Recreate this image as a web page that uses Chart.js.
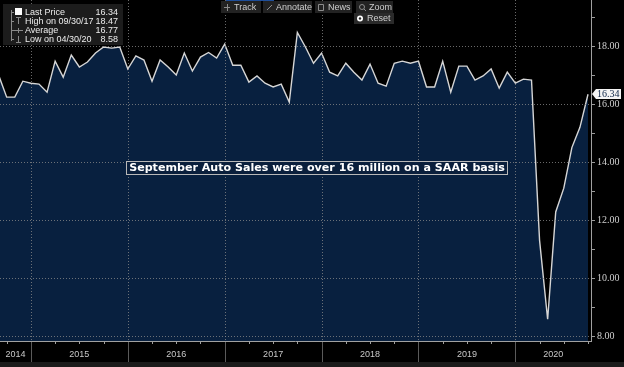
<!DOCTYPE html>
<html>
<head>
<meta charset="utf-8">
<script src="https://cdn.jsdelivr.net/npm/chart.js@4/dist/chart.umd.min.js"></script>
<style>
  html, body { margin: 0; padding: 0; background: #000; }
  #wrap { width: 624px; height: 367px; position: relative; }
</style>
</head>
<body>
<div id="wrap"><canvas id="salesChart" width="624" height="367"></canvas></div>
<script>
// monthly US auto sales, SAAR (millions), Aug 2014 .. Sep 2020 (month-end points)
const salesSaar = [
  17.00, 16.24, 16.24, 16.79, 16.72, 16.69, 16.41, 17.48, 16.93, 17.69, 17.28, 17.45,
  17.76, 17.97, 17.93, 17.97, 17.21, 17.66, 17.52, 16.79, 17.52, 17.28, 17.00, 17.76,
  17.14, 17.62, 17.78, 17.59, 18.07, 17.34, 17.34, 16.76, 16.97, 16.72, 16.59, 16.69,
  16.07, 18.47, 17.97, 17.41, 17.76, 17.10, 16.97, 17.41, 17.10, 16.83, 17.38, 16.72,
  16.62, 17.41, 17.48, 17.41, 17.48, 16.59, 16.59, 17.48, 16.41, 17.31, 17.31, 16.83,
  16.97, 17.21, 16.55, 17.10, 16.72, 16.86, 16.83, 11.30, 8.58, 12.28, 13.10, 14.50,
  15.20, 16.34
];
const years = ['2014', '2015', '2016', '2017', '2018', '2019', '2020'];
const yTickValues = [8, 10, 12, 14, 16, 18];
const legendLabels = ['Last Price', 'High on 09/30/17', 'Average', 'Low on 04/30/20'];
const legendValues = ['16.34', '18.47', '16.77', '8.58'];
const toolbarButtons = ['Track', 'Annotate', 'News', 'Zoom'];
const noteText = 'September Auto Sales were over 16 million on a SAAR basis';

// index 0 = Aug 2014, so Dec 2014 (year end) is index 4
const firstYearEnd = 4;

const points = salesSaar.map((v, i) => ({ x: i, y: v }));

const bloombergDecor = {
  id: 'bloombergDecor',
  afterDatasetsDraw(chart) {
    const { ctx, chartArea, scales } = chart;
    const x = scales.x;
    ctx.save();
    // year grid lines (dotted)
    ctx.strokeStyle = 'rgba(140,140,140,0.75)';
    ctx.lineWidth = 1;
    ctx.setLineDash([1, 2]);
    for (let k = 0; k < years.length - 1; k++) {
      const px = Math.round(x.getPixelForValue(firstYearEnd + 12 * k)) + 0.5;
      ctx.beginPath();
      ctx.moveTo(px, chartArea.top);
      ctx.lineTo(px, chartArea.bottom);
      ctx.stroke();
    }
    ctx.restore();
  },
  afterDraw(chart) {
    const { ctx, chartArea, scales } = chart;
    const x = scales.x, y = scales.y;
    const bottom = chartArea.bottom;
    ctx.save();

    // bottom axis line + quarterly ticks
    ctx.strokeStyle = '#a0a0a0';
    ctx.lineWidth = 1;
    ctx.beginPath();
    ctx.moveTo(chartArea.left, bottom + 0.5);
    ctx.lineTo(chartArea.right, bottom + 0.5);
    ctx.stroke();
    for (let i = 1; i < salesSaar.length; i += 3) {
      const px = Math.round(x.getPixelForValue(i)) + 0.5;
      ctx.beginPath();
      ctx.moveTo(px, bottom);
      ctx.lineTo(px, bottom + 3);
      ctx.stroke();
    }

    // year band
    ctx.fillStyle = '#1b1b1b';
    ctx.fillRect(0, 362, chart.width, chart.height - 362);
    ctx.strokeStyle = '#5a5a5a';
    ctx.font = '9px "Liberation Sans", Arial, sans-serif';
    ctx.fillStyle = '#c8c8c8';
    ctx.textAlign = 'center';
    ctx.textBaseline = 'middle';
    years.forEach((yr, k) => {
      const startIdx = firstYearEnd + 12 * (k - 1);
      const endIdx = startIdx + 12;
      let x0 = Math.max(chartArea.left, x.getPixelForValue(startIdx));
      let x1 = Math.min(chartArea.right, x.getPixelForValue(endIdx));
      if (k < years.length - 1) {
        const px = Math.round(x1) + 0.5;
        ctx.beginPath();
        ctx.moveTo(px, bottom + 1);
        ctx.lineTo(px, 362);
        ctx.stroke();
      }
      ctx.fillText(yr, (x0 + x1) / 2, 355);
    });

    // right axis labels
    ctx.font = '10px "Liberation Serif", "Times New Roman", serif';
    ctx.fillStyle = '#d0d0d0';
    ctx.textAlign = 'left';
    yTickValues.forEach(v => {
      ctx.fillText(v.toFixed(2), chartArea.right + 6, y.getPixelForValue(v) + 0.5);
    });

    // last price tag
    const last = salesSaar[salesSaar.length - 1];
    const ty = Math.round(y.getPixelForValue(last));
    ctx.fillStyle = '#f4f4f4';
    ctx.beginPath();
    ctx.moveTo(chartArea.right + 1, ty);
    ctx.lineTo(chartArea.right + 5, ty - 5);
    ctx.lineTo(chartArea.right + 30, ty - 5);
    ctx.lineTo(chartArea.right + 30, ty + 5);
    ctx.lineTo(chartArea.right + 5, ty + 5);
    ctx.closePath();
    ctx.fill();
    ctx.fillStyle = '#0b2345';
    ctx.fillText(last.toFixed(2), chartArea.right + 6, ty + 0.5);

    // legend box
    ctx.fillStyle = 'rgba(30,30,30,0.92)';
    ctx.fillRect(3, 4, 120, 41);
    ctx.strokeStyle = '#8a8a8a';
    ctx.beginPath();
    ctx.moveTo(11.5, 10); ctx.lineTo(11.5, 41); ctx.stroke();
    ctx.font = '9px "Liberation Sans", Arial, sans-serif';
    legendLabels.forEach((lab, i) => {
      const ly = 12 + i * 9;
      ctx.strokeStyle = '#8a8a8a';
      if (i === 0) {
        ctx.fillStyle = '#ffffff';
        ctx.fillRect(15, ly - 4, 7, 7);
      } else if (i === 1) {
        ctx.beginPath();
        ctx.moveTo(16, ly - 3.5); ctx.lineTo(21, ly - 3.5);
        ctx.moveTo(18.5, ly - 3.5); ctx.lineTo(18.5, ly + 3);
        ctx.stroke();
      } else if (i === 2) {
        ctx.beginPath();
        ctx.moveTo(14, ly + 0.5); ctx.lineTo(23, ly + 0.5);
        ctx.moveTo(18.5, ly - 2); ctx.lineTo(18.5, ly + 3);
        ctx.stroke();
      } else {
        ctx.beginPath();
        ctx.moveTo(16, ly + 3.5); ctx.lineTo(21, ly + 3.5);
        ctx.moveTo(18.5, ly - 3); ctx.lineTo(18.5, ly + 3.5);
        ctx.stroke();
      }
      ctx.beginPath();
      ctx.moveTo(11.5, ly + 0.5); ctx.lineTo(14, ly + 0.5); ctx.stroke();
      ctx.fillStyle = '#ececec';
      ctx.textAlign = 'left';
      ctx.fillText(lab, 25, ly + 0.5);
      ctx.textAlign = 'right';
      ctx.fillText(legendValues[i], 118, ly + 0.5);
    });

    // toolbar
    const btnX = [221, 263, 315, 356];
    const btnW = [40, 49, 37, 37];
    ctx.fillStyle = '#1e4e9a';
    ctx.fillRect(226, 0, 48, 1);
    ctx.textAlign = 'left';
    toolbarButtons.forEach((b, i) => {
      ctx.fillStyle = '#222222';
      ctx.fillRect(btnX[i], 1, btnW[i], 12);
      ctx.fillStyle = '#cfcfcf';
      ctx.fillText(b, btnX[i] + 13, 7.5);
      ctx.strokeStyle = '#8c8c8c';
      const ix = btnX[i] + 6;
      ctx.beginPath();
      if (i === 0) {
        ctx.moveTo(ix - 3, 7.5); ctx.lineTo(ix + 3, 7.5);
        ctx.moveTo(ix + 0.5, 4); ctx.lineTo(ix + 0.5, 11);
      } else if (i === 1) {
        ctx.moveTo(ix - 2, 10); ctx.lineTo(ix + 3, 5);
      } else if (i === 2) {
        ctx.rect(ix - 2.5, 4.5, 5, 6);
      } else {
        ctx.arc(ix, 7, 2.5, 0, Math.PI * 2);
        ctx.moveTo(ix + 2, 9); ctx.lineTo(ix + 4, 11);
      }
      ctx.stroke();
    });
    ctx.fillStyle = '#2a2a2a';
    ctx.fillRect(354, 13, 40, 11);
    ctx.fillStyle = '#ffffff';
    ctx.beginPath();
    ctx.arc(360, 18.5, 3, 0, Math.PI * 2);
    ctx.fill();
    ctx.fillStyle = '#2a2a2a';
    ctx.beginPath();
    ctx.arc(360, 18.5, 1.2, 0, Math.PI * 2);
    ctx.fill();
    ctx.fillStyle = '#cfcfcf';
    ctx.fillText('Reset', 367, 19);

    // annotation
    let fs = 11;
    ctx.font = `bold ${fs}px "DejaVu Sans", Verdana, sans-serif`;
    const tw = ctx.measureText(noteText).width;
    fs = fs * 376 / tw;
    ctx.font = `bold ${fs.toFixed(2)}px "DejaVu Sans", Verdana, sans-serif`;
    const cx = 317, cy = 168;
    ctx.fillStyle = '#0a1f3c';
    ctx.fillRect(126.5, 161.5, 381, 13);
    ctx.strokeStyle = '#b8b8b8';
    ctx.lineWidth = 1;
    ctx.strokeRect(126.5, 161.5, 381, 13);
    ctx.fillStyle = '#ffffff';
    ctx.textAlign = 'center';
    ctx.fillText(noteText, cx, cy + 0.5);

    ctx.restore();
  }
};

new Chart(document.getElementById('salesChart'), {
  type: 'line',
  data: {
    datasets: [{
      data: points,
      borderColor: '#d6d6d6',
      borderWidth: 1.4,
      backgroundColor: '#08203f',
      fill: 'start',
      pointRadius: 0,
      tension: 0
    }]
  },
  options: {
    responsive: false,
    animation: false,
    layout: { padding: { left: 0, top: 0, right: 0, bottom: 26 } },
    plugins: { legend: { display: false }, tooltip: { enabled: false } },
    scales: {
      x: { type: 'linear', min: 0.17, max: 73.37, display: false },
      y: {
        position: 'right',
        min: 7.83,
        max: 19.59,
        afterBuildTicks: scale => {
          scale.ticks = [8, 9, 10, 11, 12, 13, 14, 15, 16, 17, 18, 19].map(v => ({ value: v }));
        },
        afterFit: scale => { scale.width = 33; },
        ticks: { display: false },
        grid: {
          z: 1,
          color: c => (c.tick && c.tick.value % 2 === 0) ? 'rgba(140,140,140,0.75)' : 'rgba(0,0,0,0)',
          tickColor: '#9a9a9a',
          tickLength: 4,
          lineWidth: 1
        },
        border: { display: true, color: '#a0a0a0', dash: [1, 2], z: 1 }
      }
    }
  },
  plugins: [bloombergDecor]
});
</script>
</body>
</html>
